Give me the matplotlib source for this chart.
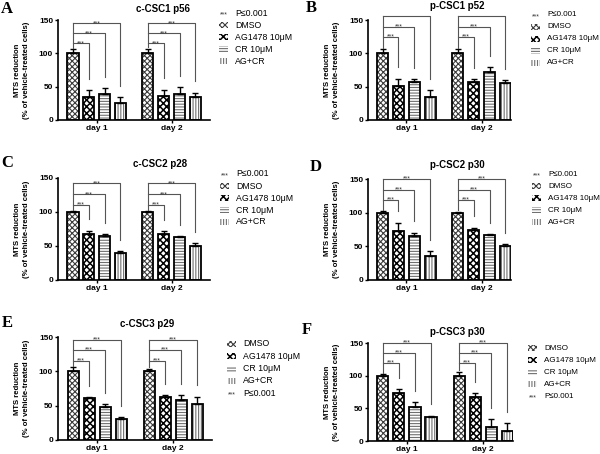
import matplotlib
matplotlib.use('Agg')
import matplotlib.pyplot as plt
from matplotlib.patches import Rectangle
import numpy as np

plt.rcParams['font.family'] = ['Liberation Sans', 'DejaVu Sans']
plt.rcParams['hatch.linewidth'] = 0.7

W, H = 600, 454

days = ['day 1', 'day 2']
treatments = ['DMSO', 'AG1478 10\u03bcM', 'CR 10\u03bcM', 'AG+CR']
p_label = 'P\u22640.001'
titles = ['c-CSC1 p56', 'p-CSC1 p52', 'c-CSC2 p28', 'p-CSC2 p30', 'c-CSC3 p29', 'p-CSC3 p30']
letters = ['A', 'B', 'C', 'D', 'E', 'F']

# mean MTS reduction (% of vehicle), rows = day 1 / day 2, cols = treatments
c_csc1_p56 = [[100, 35, 39, 25], [100, 36.5, 38.5, 34]]
p_csc1_p52 = [[100, 51, 57, 35], [100, 57, 72, 55]]
c_csc2_p28 = [[100, 67, 65, 40], [100, 68, 63, 50]]
p_csc2_p30 = [[100, 73, 66, 35], [100, 74, 67, 50]]
c_csc3_p29 = [[100, 60.5, 47.5, 30], [100, 63, 58, 53]]
p_csc3_p30 = [[100, 74, 52, 36], [100, 67, 21, 15]]

# upper error bars
c_csc1_p56_err = [[6, 10, 9, 9], [7, 9, 11, 7]]
p_csc1_p52_err = [[6, 11, 4, 10], [6, 4, 7, 5]]
c_csc2_p28_err = [[1.5, 5.5, 2.5, 2.5], [1, 3.5, 1.5, 4]]
p_csc2_p30_err = [[2, 12, 4, 8], [1.5, 3.5, 1, 3]]
c_csc3_p29_err = [[6, 1.5, 4.5, 3], [4, 2, 7, 10]]
p_csc3_p30_err = [[2, 6, 7.5, 3], [6, 6, 12.5, 13]]

means = [c_csc1_p56, p_csc1_p52, c_csc2_p28, p_csc2_p30, c_csc3_p29, p_csc3_p30]
errs = [c_csc1_p56_err, p_csc1_p52_err, c_csc2_p28_err, p_csc2_p30_err, c_csc3_p29_err, p_csc3_p30_err]

# heights of the three significance brackets in each panel
bracket_y = [[115, 130, 145], [125, 140, 156], [111, 126, 142],
             [119, 134, 150], [115, 131, 146], [120, 135, 150]]

# layout in pixels: left, right, top(150), bottom(0)
boxes = [(58, 210, 20, 120), (368, 511, 20, 120), (58, 210, 178, 280),
         (368, 511, 179, 280), (58, 212, 337, 440), (368, 513, 343, 441)]
xlims = [(-0.95, 8.68), (-0.92, 8.1)] * 3
title_pos = [(163, 9), (457, 6), (160, 164), (457, 165), (147, 324), (457, 332)]
letter_pos = [(7, 9), (311, 8), (7, 163), (316, 167), (7, 323), (307, 330)]
legend_pos = [(219, 13, 12), (531, 15, 12), (220, 174, 12),
              (532, 174, 12), (227, 344, 12.3), (528, 348, 12)]
legend_fs = [6.3, 5.8, 6.3, 5.8, 6.3, 5.8]
p_first = [True, True, True, True, False, False]

styles = [
    dict(fc='white', hc='#3c3c3c', hatch='xxxxxx', hlw=0.8),
    dict(fc='white', hc='black', hatch='xxxxx', hlw=1.1),
    dict(fc='white', hc='#707070', hatch='------', hlw=0.8),
    dict(fc='white', hc='#707070', hatch='||||||', hlw=0.8),
]

GROUP_OFF = 4.75
BW = 0.7
BR_COL = '#555555'


def hatched_bar(ax, x, h, st):
    b = ax.bar(x, h, BW, color=st['fc'], edgecolor=st['hc'], hatch=st['hatch'], linewidth=0)
    for p in b:
        if hasattr(p, 'set_hatch_linewidth'):
            p.set_hatch_linewidth(st['hlw'])
    ax.bar(x, h, BW, fill=False, edgecolor='black', linewidth=1.3)


fig = plt.figure(figsize=(6, 4.54), dpi=100)

for i in range(6):
    l, r, t, b = boxes[i]
    ax = fig.add_axes([l / W, 1 - b / H, (r - l) / W, (b - t) / H])
    m = np.array(means[i])
    e = np.array(errs[i])
    for g in range(2):
        xs = np.arange(4) + g * GROUP_OFF
        for j in range(4):
            hatched_bar(ax, xs[j], m[g, j], styles[j])
        ax.errorbar(xs, m[g], yerr=[np.zeros(4), e[g]], fmt='none', ecolor='black',
                    elinewidth=1, capsize=2.5, capthick=1)
        # significance brackets DMSO vs each treatment
        top = m[g] + e[g]
        hs = bracket_y[i]
        ax.plot([xs[0], xs[0]], [top[0] + 2, max(hs)], color=BR_COL, lw=0.8, clip_on=False)
        for j in range(1, 4):
            h = hs[j - 1]
            leg_end = min(top[j] + 17, h - 5)
            ax.plot([xs[0], xs[j], xs[j]], [h, h, leg_end], color=BR_COL, lw=0.8, clip_on=False)
            ax.annotate('***', ((xs[0] + xs[j]) / 2, h), xytext=(0, -1.2), textcoords='offset points',
                        ha='center', va='baseline', fontsize=5, color='#333333')

    ax.set_xlim(*xlims[i])
    ax.set_ylim(0, 150)
    ax.set_yticks([0, 50, 100, 150])
    ax.set_xticks([1.5, 1.5 + GROUP_OFF])
    ax.set_xticklabels(days)
    for lab in ax.get_xticklabels() + ax.get_yticklabels():
        lab.set_fontweight('bold')
        lab.set_fontsize(6)
    ax.tick_params(length=2.5, width=1, pad=1)
    for s in ['top', 'right']:
        ax.spines[s].set_visible(False)
    for s in ['left', 'bottom']:
        ax.spines[s].set_linewidth(1.2)
    ax.set_ylabel('MTS reduction\n(% of vehicle-treated cells)', fontsize=5.6, fontweight='bold',
                  linespacing=1.3)
    ax.yaxis.label.set_verticalalignment('center')
    ax.yaxis.set_label_coords(-36 / (r - l), 0.5)

    tx, ty = title_pos[i]
    fig.text(tx / W, 1 - ty / H, titles[i], ha='center', va='center', fontsize=7, fontweight='bold')
    lx, ly = letter_pos[i]
    fig.text(lx / W, 1 - ly / H, letters[i], ha='center', va='center', fontsize=12,
             fontweight='bold', family='Liberation Serif')

    # legend drawn row by row
    px, py, step = legend_pos[i]
    rows = ['P'] + list(range(4)) if p_first[i] else list(range(4)) + ['P']
    for k, item in enumerate(rows):
        yy = py + k * step
        if item == 'P':
            fig.text((px + 4.5) / W, 1 - (yy + 2) / H, '***', ha='center', va='center',
                     fontsize=5, color='#333333')
            label = p_label
        else:
            st = styles[item]
            rect = Rectangle((px / W, 1 - (yy + 3) / H), 9 / W, 6 / H, transform=fig.transFigure,
                             facecolor=st['fc'], edgecolor=st['hc'], hatch=st['hatch'], linewidth=0)
            if hasattr(rect, 'set_hatch_linewidth'):
                rect.set_hatch_linewidth(st['hlw'])
            fig.add_artist(rect)
            label = treatments[item]
        fig.text((px + 16) / W, 1 - yy / H, label, ha='left', va='center', fontsize=legend_fs[i])

fig.savefig('out.png', dpi=100)
